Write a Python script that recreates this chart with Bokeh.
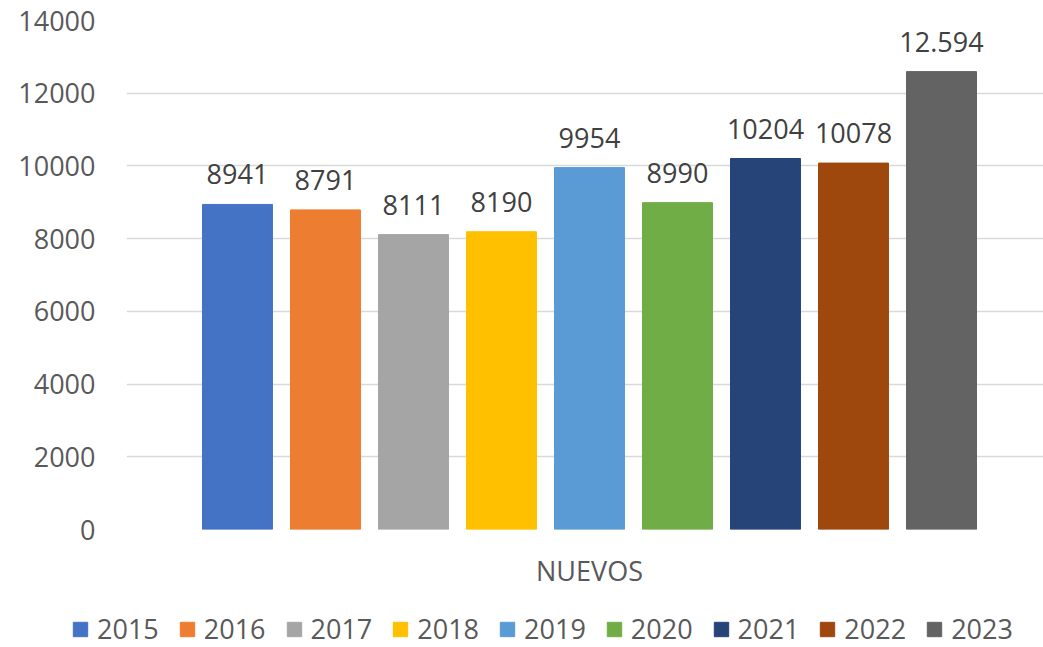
from bokeh.plotting import figure
from bokeh.layouts import column
from bokeh.models import ColumnDataSource, Range1d, FixedTicker, LabelSet, Legend, LegendItem
from bokeh.core.properties import value
from bokeh.embed import file_html
from bokeh.resources import INLINE

years = ["2015", "2016", "2017", "2018", "2019", "2020", "2021", "2022", "2023"]
values = [8941, 8791, 8111, 8190, 9954, 8990, 10204, 10078, 12594]
labels = ["8941", "8791", "8111", "8190", "9954", "8990", "10204", "10078", "12.594"]
colors = ["#4472C4", "#ED7D31", "#A5A5A5", "#FFC000", "#5B9BD5",
          "#70AD47", "#264478", "#9E480E", "#636363"]
category = "NUEVOS"
y_ticks = [0, 2000, 4000, 6000, 8000, 10000, 12000, 14000]

FONT = "Open Sans"

src = ColumnDataSource(dict(x=list(range(len(years))), top=values,
                            year=years, label=labels, color=colors))

p = figure(width=1043, height=600, output_backend="svg", toolbar_location=None,
           x_range=Range1d(-1.261, 9.159), y_range=Range1d(0, 14000),
           min_border_left=126, min_border_right=0, min_border_top=20,
           min_border_bottom=71)
p.frame_align = False
p.outline_line_color = None
p.background_fill_color = "white"
p.border_fill_color = "white"

r = p.vbar(x="x", top="top", width=0.795, color="color", source=src)

# y axis
p.yaxis.ticker = FixedTicker(ticks=y_ticks)
p.yaxis.axis_line_color = None
p.yaxis.major_tick_line_color = None
p.yaxis.minor_tick_line_color = None
p.yaxis.major_tick_out = 0
p.yaxis.major_label_standoff = 31
p.yaxis.major_label_text_font = FONT
p.yaxis.major_label_text_font_size = "27px"
p.yaxis.major_label_text_color = "#595959"

p.ygrid.ticker = FixedTicker(ticks=y_ticks)
p.ygrid.grid_line_color = "#D9D9D9"
p.ygrid.grid_line_width = 1.5
p.xgrid.grid_line_color = None

# x axis: single category label at the centre of the group
p.xaxis.ticker = FixedTicker(ticks=[4])
p.xaxis.major_label_overrides = {4: category}
p.xaxis.axis_line_color = None
p.xaxis.major_tick_line_color = None
p.xaxis.minor_tick_line_color = None
p.xaxis.major_tick_out = 0
p.xaxis.major_label_standoff = 22
p.xaxis.major_label_text_font = FONT
p.xaxis.major_label_text_font_size = "27px"
p.xaxis.major_label_text_color = "#595959"

# data labels
lbl = LabelSet(x="x", y="top", text="label", source=src, y_offset=20,
               text_align="center", text_baseline="alphabetic",
               text_font=value(FONT), text_font_size=value("27px"),
               text_color=value("#404040"))
p.add_layout(lbl)

# legend in its own strip below the chart (bars placed out of view)
lf = figure(width=1043, height=47, output_backend="svg", toolbar_location=None,
            x_range=Range1d(-1000, -999), y_range=Range1d(0, 1),
            min_border_left=0, min_border_right=0, min_border_top=0,
            min_border_bottom=0)
lf.frame_align = False
lf.axis.visible = False
lf.grid.visible = False
lf.outline_line_color = None
lr = lf.vbar(x="x", top="top", width=0.795, color="color", source=src)

legend = Legend(items=[LegendItem(label=dict(field="year"), renderers=[lr])],
                orientation="horizontal", location=(71, 0),
                glyph_width=18, glyph_height=18, label_standoff=8, spacing=19,
                padding=0, margin=0, border_line_color=None,
                label_text_font=FONT, label_text_font_size="27px",
                label_text_color="#595959", background_fill_alpha=0)
lf.add_layout(legend, "center")

open("out.html", "w").write(file_html(column(p, lf), INLINE))
